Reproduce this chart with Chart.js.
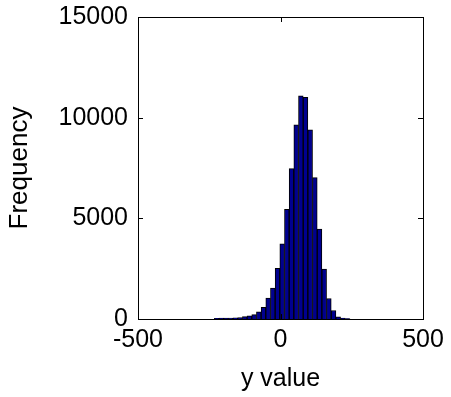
<!DOCTYPE html>
<html>
<head>
<meta charset="utf-8">
<script src="https://cdn.jsdelivr.net/npm/chart.js@4.4.1/dist/chart.umd.min.js"></script>
<style>
  html, body { margin: 0; padding: 0; background: #fff; }
  #wrap { width: 451px; height: 397px; }
</style>
</head>
<body>
<div id="wrap"><canvas id="hist"></canvas></div>
<script>
// centres des classes (y value)
const binCenters = [-223.8, -207.4, -191.0, -174.6, -158.2, -141.8, -125.4, -109.0, -92.6, -76.2,
  -59.8, -43.4, -27.0, -10.6, 5.8, 22.2, 38.6, 55.0, 71.4, 87.8,
  104.2, 120.6, 137.0, 153.4, 169.8, 186.2, 202.6, 219.0, 235.4];
// effectifs
const counts = [30, 40, 45, 50, 55, 65, 115, 155, 220, 360,
  580, 1035, 1540, 2520, 3735, 5450, 7470, 9650, 11080, 11010,
  9400, 7020, 4470, 2485, 1020, 420, 110, 40, 15];
const xTicks = [-500, 0, 500];
const yTicks = [0, 5000, 10000, 15000];

const FONT = 'Liberation Sans, Arial, sans-serif';

// cadre + graduations vers l'intérieur (style MATLAB)
const boxPlugin = {
  id: 'box',
  afterDraw(chart) {
    const { ctx, chartArea: a, scales } = chart;
    ctx.save();
    ctx.strokeStyle = '#000';
    ctx.lineWidth = 1;
    ctx.beginPath();
    yTicks.forEach(v => {
      const y = Math.round(scales.y.getPixelForValue(v)) + 0.5;
      ctx.moveTo(a.left, y); ctx.lineTo(a.left + 5, y);
      ctx.moveTo(a.right, y); ctx.lineTo(a.right - 5, y);
    });
    xTicks.forEach(v => {
      const x = Math.round(scales.x.getPixelForValue(v)) + 0.5;
      ctx.moveTo(x, a.bottom); ctx.lineTo(x, a.bottom - 5);
      ctx.moveTo(x, a.top); ctx.lineTo(x, a.top + 5);
    });
    ctx.stroke();
    ctx.strokeRect(Math.round(a.left) + 0.5, Math.round(a.top) + 0.5,
      Math.round(a.right - a.left), Math.round(a.bottom - a.top));
    ctx.restore();
  }
};

new Chart(document.getElementById('hist'), {
  type: 'bar',
  data: {
    datasets: [{
      data: binCenters.map((c, i) => ({ x: c, y: counts[i] })),
      backgroundColor: 'rgb(0,0,143)',
      borderColor: '#000',
      borderWidth: 1,
      categoryPercentage: 1,
      barPercentage: 1
    }]
  },
  options: {
    responsive: true,
    maintainAspectRatio: false,
    animation: false,
    layout: { padding: { top: 17, right: 28, left: 0, bottom: 0 } },
    plugins: { legend: { display: false }, tooltip: { enabled: false } },
    scales: {
      x: {
        type: 'linear',
        offset: false,
        min: -500, max: 500,
        afterBuildTicks: s => { s.ticks = xTicks.map(v => ({ value: v })); },
        afterFit: s => { s.height = 78; s.paddingLeft = 0; s.paddingRight = 0; },
        grid: { display: false, drawTicks: false, offset: false },
        border: { display: false },
        ticks: { color: '#000', padding: 6, maxRotation: 0, callback: v => String(v),
          font: { family: FONT, size: 25 } },
        title: { display: true, text: 'y value', color: '#000', padding: { top: 0, bottom: 3 },
          font: { family: FONT, size: 25 } }
      },
      y: {
        min: 0, max: 15000,
        afterBuildTicks: s => { s.ticks = yTicks.map(v => ({ value: v })); },
        afterFit: s => { s.width = 138; s.paddingTop = 0; s.paddingBottom = 0; },
        grid: { display: false, drawTicks: false },
        border: { display: false },
        ticks: { color: '#000', padding: 10, callback: v => String(v),
          font: { family: FONT, size: 25 } },
        title: { display: true, text: 'Frequency', color: '#000', padding: { top: 4, bottom: 0 },
          font: { family: FONT, size: 26 } }
      }
    }
  },
  plugins: [boxPlugin]
});
</script>
</body>
</html>
